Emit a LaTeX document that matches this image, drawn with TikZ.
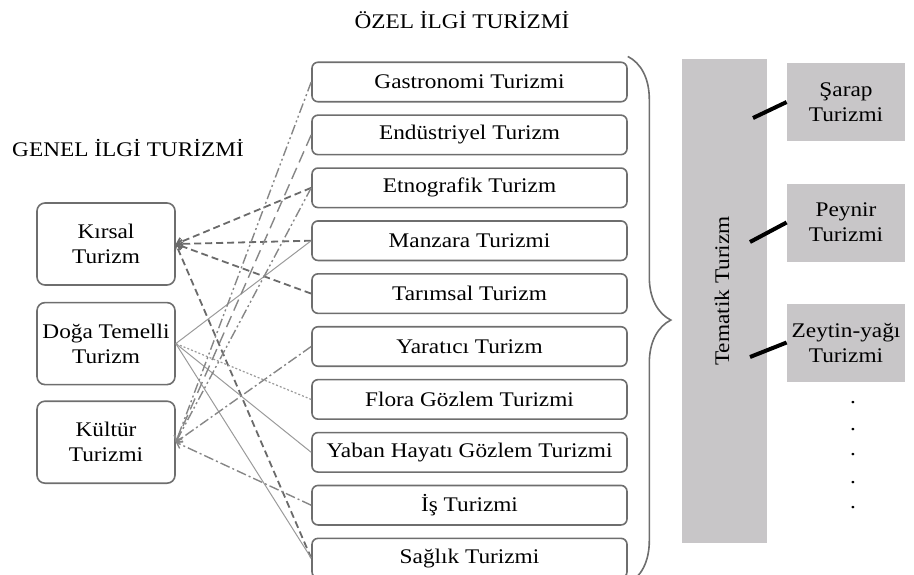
\documentclass[tikz,border=0pt]{standalone}
\usepackage{fontspec}
\setmainfont{Liberation Serif}[FakeStretch=1.12]
\usetikzlibrary{positioning, calc, arrows.meta, decorations.pathreplacing}

\definecolor{boxline}{HTML}{6E6E6E}
\definecolor{kirsalline}{HTML}{6A6A6A}
\definecolor{dogaline}{HTML}{9A9A9A}
\definecolor{kulturline}{HTML}{868686}
\definecolor{bargray}{HTML}{C8C6C8}

\begin{document}
\begin{tikzpicture}[x=0.5pt, y=-0.5pt, font=\fontsize{10.4}{12.5}\selectfont, text=black,
    genel/.style={draw=boxline, line width=0.8pt, rounded corners=4pt, minimum width=69pt, minimum height=41pt, align=center, inner sep=1pt},
    ozel/.style={draw=boxline, line width=0.8pt, rounded corners=3pt, minimum width=157.5pt, minimum height=19.75pt, inner sep=1pt},
    tema/.style={fill=bargray, minimum width=59pt, minimum height=39pt, align=center, inner sep=0pt},
    tip/.style={-{Straight Barb[length=2.5pt, width=4pt]}},
    kirsal link/.style={draw=kirsalline, line width=0.9pt, dash pattern=on 3.5pt off 2pt, tip},
    doga link/.style={draw=dogaline, line width=0.5pt},
    doga dots/.style={draw=dogaline, line width=0.6pt, dash pattern=on 1pt off 1pt},
    kultur dd/.style={draw=kulturline, line width=0.7pt, dash pattern=on 5pt off 1.5pt on 1pt off 1.5pt on 1pt off 1.5pt, tip},
    kultur d/.style={draw=kulturline, line width=0.7pt, dash pattern=on 5pt off 1.5pt on 1pt off 1.5pt, tip},
    kultur long/.style={draw=kulturline, line width=0.7pt, dash pattern=on 6pt off 3pt, tip},
    bar link/.style={line width=2pt, black}]
    \useasboundingbox (0,0) rectangle (914,574);

    % titles
    \node (ozelbaslik) at (462,20) {ÖZEL İLGİ TURİZMİ};
    \node (genelbaslik) at (128,148) {GENEL İLGİ TURİZMİ};

    % genel ilgi
    \node[genel] (kirsal) at (106,244) {Kırsal\\Turizm};
    \node[genel, below=8pt of kirsal] (doga) {Doğa Temelli\\Turizm};
    \node[genel, below=7.5pt of doga] (kultur) {Kültür\\Turizmi};

    % özel ilgi
    \node[ozel] (gastro) at (469.5,82) {Gastronomi Turizmi};
    \node[ozel, below=5.9pt of gastro] (endus) {Endüstriyel Turizm};
    \node[ozel, below=5.9pt of endus] (etno) {Etnografik Turizm};
    \node[ozel, below=5.9pt of etno] (manzara) {Manzara Turizmi};
    \node[ozel, below=5.9pt of manzara] (tarim) {Tarımsal Turizm};
    \node[ozel, below=5.9pt of tarim] (yarat) {Yaratıcı Turizm};
    \node[ozel, below=5.9pt of yarat] (flora) {Flora Gözlem Turizmi};
    \node[ozel, below=5.9pt of flora] (yaban) {Yaban Hayatı Gözlem Turizmi};
    \node[ozel, below=5.9pt of yaban] (is) {İş Turizmi};
    \node[ozel, below=5.9pt of is] (saglik) {Sağlık Turizmi};

    % links
    \foreach \to in {etno, manzara, tarim, saglik}
        \draw[kirsal link] (\to.west) -- (kirsal.east);
    \foreach \to in {manzara, yaban, saglik}
        \draw[doga link] (\to.west) -- (doga.east);
    \draw[doga dots] (flora.west) -- (doga.east);
    \draw[kultur dd] (gastro.west) -- (kultur.east);
    \draw[kultur long] (endus.west) -- (kultur.east);
    \draw[kultur dd] (etno.west) -- (kultur.east);
    \draw[kultur d] (yarat.west) -- (kultur.east);
    \draw[kultur d] (is.west) -- (kultur.east);

    \draw[boxline, line width=0.8pt, decorate, decoration={brace, amplitude=21.5pt}]
        ([yshift=2.5pt]gastro.north east) -- ([yshift=-2.5pt]saglik.south east);

    % tematik
    \node[fill=bargray, minimum width=42.5pt, minimum height=242pt, inner sep=0pt] (tematik) at (724.5,301) {};
    \node[rotate=90] (tematiklabel) at (722,291) {Tematik Turizm};
    \node[tema] (sarap) at (846,102) {Şarap\\Turizmi};
    \node[tema] (peynir) at (846,222.5) {Peynir\\Turizmi};
    \node[tema] (zeytin) at (846,342.5) {Zeytin-yağı\\Turizmi};
    \coordinate (c1) at (753,118);
    \coordinate (c2) at (750,242);
    \coordinate (c3) at (750,357);
    \draw[bar link] (c1) -- (sarap.west);
    \draw[bar link] (c2) -- (peynir.west);
    \draw[bar link] (c3) -- (zeytin.west);
    \foreach \i/\y in {1/403, 2/430, 3/455, 4/483, 5/508}
        \node[inner sep=0pt] (dot\i) at (853,\y) {.};
\end{tikzpicture}
\end{document}
